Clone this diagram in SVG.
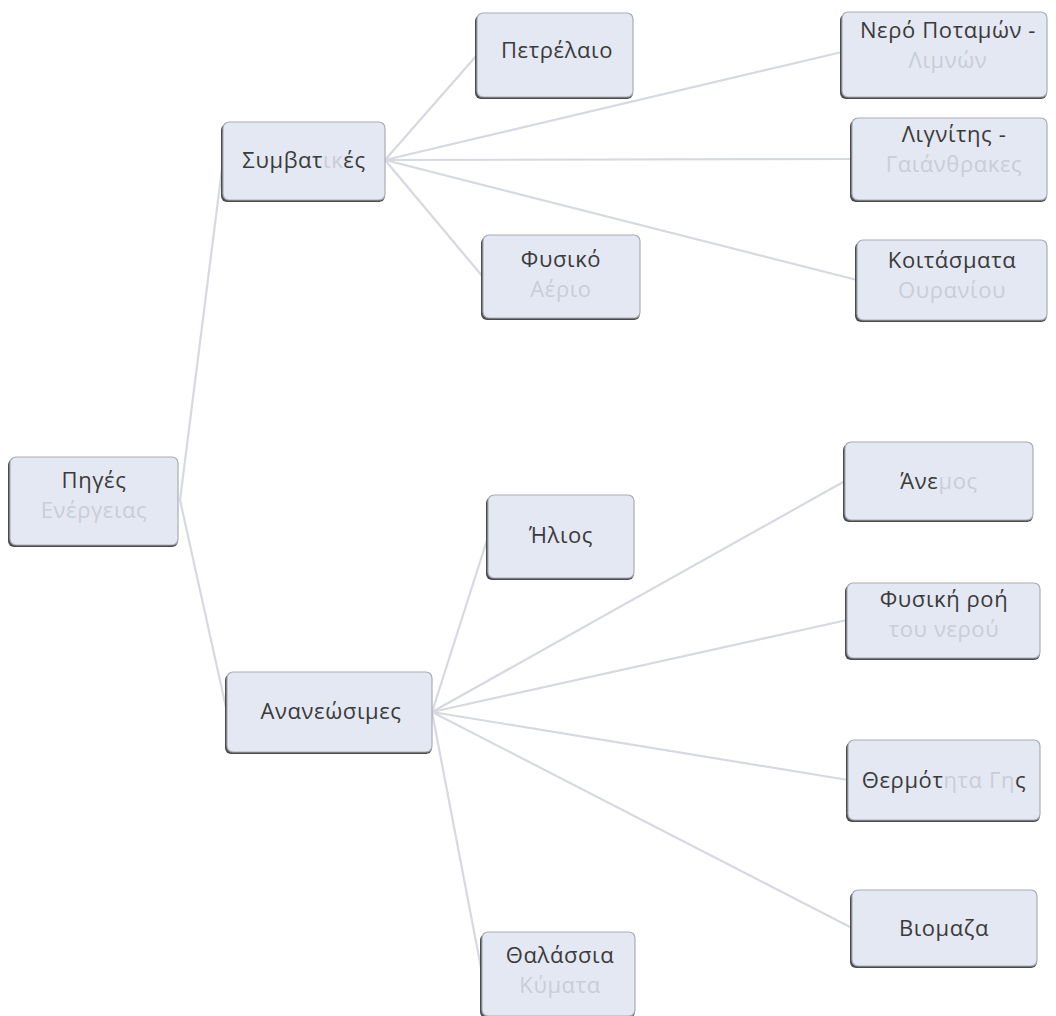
<svg xmlns="http://www.w3.org/2000/svg" width="1056" height="1016" viewBox="0 0 1056 1016">
<style>
.bg{fill:#ffffff}
.shadow{fill:#4a4a4a}
.box{fill:#e4e8f3;stroke:#a9acb3;stroke-width:1.2}
.t{font-family:"Open Sans","Noto Sans",sans-serif;font-size:22px;fill:#3a3a3a;text-anchor:middle;letter-spacing:0.6px}
.f{fill:#c9cdd8}
.c line{stroke:#d6d9df;stroke-width:2.2;stroke-linecap:round}
</style>
<rect class="bg" x="0" y="0" width="1056" height="1016"/>
<g class="c" id="connectors">
<line x1="180" y1="500" x2="223" y2="161"/>
<line x1="180" y1="500" x2="227" y2="712"/>
<line x1="385" y1="160" x2="477" y2="55"/>
<line x1="385" y1="160" x2="483" y2="277"/>
<line x1="385" y1="160" x2="842" y2="52"/>
<line x1="385" y1="160" x2="852" y2="159"/>
<line x1="385" y1="160" x2="857" y2="280"/>
<line x1="432" y1="712" x2="488" y2="537"/>
<line x1="432" y1="712" x2="482" y2="973"/>
<line x1="432" y1="712" x2="845" y2="481"/>
<line x1="432" y1="712" x2="847" y2="620"/>
<line x1="432" y1="712" x2="848" y2="780"/>
<line x1="432" y1="712" x2="852" y2="928"/>
</g>
<g id="n-piges">
<rect class="shadow" x="8" y="459" width="170" height="88" rx="6"/>
<rect class="box" x="10" y="457" width="168" height="88" rx="6"/>
<text class="t" x="94" y="488">Πηγές</text>
<text class="t f" x="94" y="518">Ενέργειας</text>
</g>
<g id="n-symvatikes">
<rect class="shadow" x="221" y="124" width="164" height="78" rx="6"/>
<rect class="box" x="223" y="122" width="162" height="78" rx="6"/>
<text class="t" x="304" y="168">Συμβατ<tspan class="f">ικ</tspan>ές</text>
</g>
<g id="n-petrelaio">
<rect class="shadow" x="475" y="15" width="158" height="84" rx="6"/>
<rect class="box" x="477" y="13" width="156" height="84" rx="6"/>
<text class="t" x="557" y="58">Πετρέλαιο</text>
</g>
<g id="n-fysiko">
<rect class="shadow" x="481" y="237" width="159" height="83" rx="6"/>
<rect class="box" x="483" y="235" width="157" height="83" rx="6"/>
<text class="t" x="561" y="267">Φυσικό</text>
<text class="t f" x="561" y="297">Αέριο</text>
</g>
<g id="n-nero">
<rect class="shadow" x="840" y="14" width="207" height="85" rx="6"/>
<rect class="box" x="842" y="12" width="205" height="85" rx="6"/>
<text class="t" x="948" y="38">Νερό  Ποταμών -</text>
<text class="t f" x="948" y="68">Λιμνών</text>
</g>
<g id="n-lignitis">
<rect class="shadow" x="850" y="120" width="197" height="82" rx="6"/>
<rect class="box" x="852" y="118" width="195" height="82" rx="6"/>
<text class="t" x="954" y="142">Λιγνίτης -</text>
<text class="t f" x="954" y="172">Γαιάνθρακες</text>
</g>
<g id="n-koitasmata">
<rect class="shadow" x="855" y="242" width="192" height="80" rx="6"/>
<rect class="box" x="857" y="240" width="190" height="80" rx="6"/>
<text class="t" x="952" y="268">Κοιτάσματα</text>
<text class="t f" x="952" y="298">Ουρανίου</text>
</g>
<g id="n-ilios">
<rect class="shadow" x="486" y="497" width="148" height="83" rx="6"/>
<rect class="box" x="488" y="495" width="146" height="83" rx="6"/>
<text class="t" x="561" y="543">Ήλιος</text>
</g>
<g id="n-ananeosimes">
<rect class="shadow" x="225" y="674" width="207" height="80" rx="6"/>
<rect class="box" x="227" y="672" width="205" height="80" rx="6"/>
<text class="t" x="331" y="719">Ανανεώσιμες</text>
</g>
<g id="n-thalassia">
<rect class="shadow" x="480" y="934" width="155" height="84" rx="6"/>
<rect class="box" x="482" y="932" width="153" height="84" rx="6"/>
<text class="t" x="560" y="963">Θαλάσσια</text>
<text class="t f" x="560" y="993">Κύματα</text>
</g>
<g id="n-anemos">
<rect class="shadow" x="843" y="444" width="190" height="78" rx="6"/>
<rect class="box" x="845" y="442" width="188" height="78" rx="6"/>
<text class="t" x="939" y="489">Άνε<tspan class="f">μος</tspan></text>
</g>
<g id="n-fysiki-roi">
<rect class="shadow" x="845" y="585" width="195" height="75" rx="6"/>
<rect class="box" x="847" y="583" width="193" height="75" rx="6"/>
<text class="t" x="944" y="607">Φυσική ροή</text>
<text class="t f" x="944" y="637">του νερού</text>
</g>
<g id="n-thermotita">
<rect class="shadow" x="846" y="742" width="194" height="80" rx="6"/>
<rect class="box" x="848" y="740" width="192" height="80" rx="6"/>
<text class="t" x="944" y="788">Θερμότ<tspan class="f">ητα Γη</tspan>ς</text>
</g>
<g id="n-viomaza">
<rect class="shadow" x="850" y="892" width="187" height="76" rx="6"/>
<rect class="box" x="852" y="890" width="185" height="76" rx="6"/>
<text class="t" x="944" y="936">Βιομαζα</text>
</g>
</svg>
